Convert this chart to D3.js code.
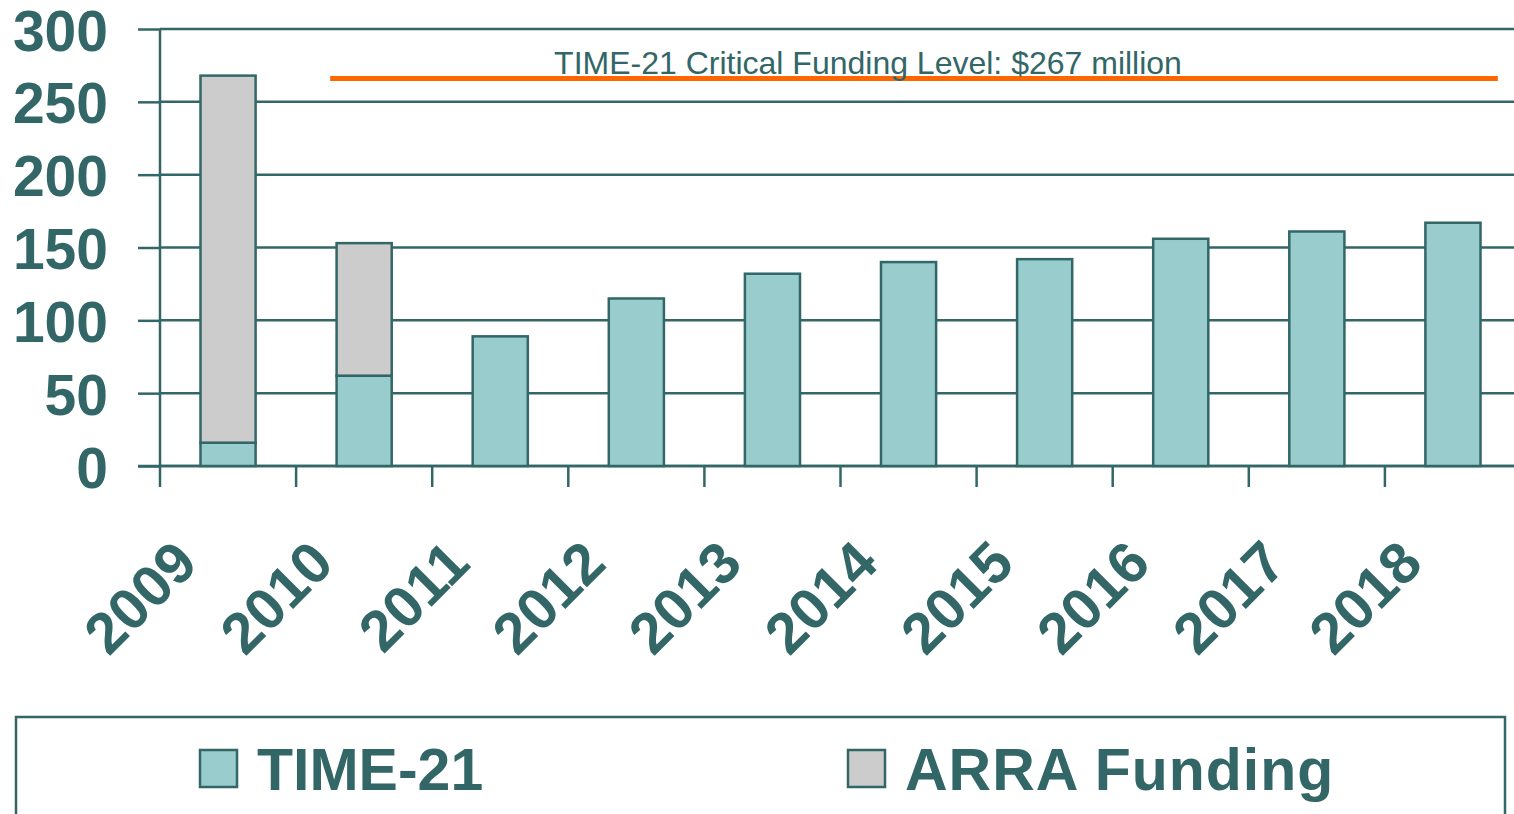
<!DOCTYPE html>
<html>
<head>
<meta charset="utf-8">
<script src="https://cdn.jsdelivr.net/npm/d3@7"></script>
<style>
  body { margin: 0; background: #fff; }
  svg { display: block; font-family: "Liberation Sans", Arial, sans-serif; }
</style>
</head>
<body>
<svg id="chart" width="1514" height="814"></svg>
<script>
const years = ["2009", "2010", "2011", "2012", "2013", "2014", "2015", "2016", "2017", "2018"];
const time21 = [16, 62, 89, 115, 132, 140, 142, 156, 161, 167];
const arra = [252, 91, 0, 0, 0, 0, 0, 0, 0, 0];
const yTicks = [0, 50, 100, 150, 200, 250, 300];
const criticalLevel = 266;
const criticalLabel = "TIME-21 Critical Funding Level: $267 million";
const legendLabels = ["TIME-21", "ARRA Funding"];

const teal = "#336666";
const tealFill = "#99cccc";
const grayFill = "#cccccc";
const orange = "#ff6600";

const svg = d3.select("#chart");

let x = d3.scaleBand().domain(years).range([160, 1521]).paddingInner(0.595).paddingOuter(0.2975);
let y = d3.scaleLinear().domain([0, 300]).range([466, 29]);
// position along the category axis, in band units
let xi = d3.scaleLinear().domain([0, years.length]).range([160, 1521]);

let data = years.map((d, i) => ({ year: d, t: time21[i], a: arra[i] }));

// gridlines
svg.append("g")
  .selectAll("line")
  .data(yTicks)
  .enter()
  .append("line")
  .attr("x1", 160)
  .attr("x2", 1521)
  .attr("y1", (d) => y(d))
  .attr("y2", (d) => y(d))
  .attr("stroke", teal)
  .attr("stroke-width", 2.5);

// y axis
let yAxis = svg.append("g")
  .attr("transform", "translate(160,0)")
  .call(d3.axisLeft(y).tickValues(yTicks).tickSize(22).tickPadding(30));
yAxis.selectAll("line, path").attr("stroke", teal).attr("stroke-width", 2.5);
yAxis.select(".domain").attr("d", "M0," + y(0) + "V" + y(300));
yAxis.selectAll("text")
  .attr("fill", teal)
  .attr("font-size", 57)
  .attr("font-weight", "bold")
  .attr("font-family", "Liberation Sans, Arial, sans-serif")
  .attr("dy", "0.37em");

// x ticks at band boundaries
let boundaries = d3.range(years.length + 1);
svg.append("g")
  .selectAll("line")
  .data(boundaries)
  .enter()
  .append("line")
  .attr("x1", (d) => xi(d))
  .attr("x2", (d) => xi(d))
  .attr("y1", y(0))
  .attr("y2", y(0) + 21)
  .attr("stroke", teal)
  .attr("stroke-width", 2.5);

svg.append("line")
  .attr("x1", 138).attr("x2", 1521)
  .attr("y1", y(0)).attr("y2", y(0))
  .attr("stroke", teal).attr("stroke-width", 2.5);

// x labels
svg.append("g")
  .selectAll("text")
  .data(years)
  .enter()
  .append("text")
  .attr("text-anchor", "end")
  .attr("transform", (d) => "translate(" + (x(d) + x.bandwidth() / 2 - 28) + ",566) rotate(-45)")
  .attr("fill", teal)
  .attr("font-size", 58)
  .attr("font-weight", "bold")
  .text((d) => d);

// TIME-21 bars
svg.append("g")
  .selectAll("rect")
  .data(data)
  .enter()
  .append("rect")
  .attr("x", (d) => x(d.year))
  .attr("width", x.bandwidth())
  .attr("y", (d) => y(d.t))
  .attr("height", (d) => y(0) - y(d.t))
  .attr("fill", tealFill)
  .attr("stroke", teal)
  .attr("stroke-width", 2.5);

// ARRA bars stacked on top
svg.append("g")
  .selectAll("rect")
  .data(data.filter((d) => d.a > 0))
  .enter()
  .append("rect")
  .attr("x", (d) => x(d.year))
  .attr("width", x.bandwidth())
  .attr("y", (d) => y(d.t + d.a))
  .attr("height", (d) => y(d.t) - y(d.t + d.a))
  .attr("fill", grayFill)
  .attr("stroke", teal)
  .attr("stroke-width", 2.5);

// critical funding level
svg.append("line")
  .attr("x1", xi(1.25))
  .attr("x2", xi(9.83))
  .attr("y1", y(criticalLevel))
  .attr("y2", y(criticalLevel))
  .attr("stroke", orange)
  .attr("stroke-width", 5);

svg.append("text")
  .attr("x", 868)
  .attr("y", y(criticalLevel) - 5)
  .attr("text-anchor", "middle")
  .attr("fill", teal)
  .attr("font-size", 32)
  .text(criticalLabel);

// legend
svg.append("rect")
  .attr("x", 16).attr("y", 717)
  .attr("width", 1489).attr("height", 130)
  .attr("fill", "none")
  .attr("stroke", teal)
  .attr("stroke-width", 2.5);

let legendX = [200, 848];
let legendFill = [tealFill, grayFill];
let legend = svg.append("g")
  .selectAll("g")
  .data(legendLabels)
  .enter()
  .append("g")
  .attr("transform", (d, i) => "translate(" + legendX[i] + ",750)");

legend.append("rect")
  .attr("width", 37).attr("height", 37)
  .attr("fill", (d, i) => legendFill[i])
  .attr("stroke", teal)
  .attr("stroke-width", 2.5);

legend.append("text")
  .attr("x", 57)
  .attr("y", 40)
  .attr("fill", teal)
  .attr("font-size", 59)
  .attr("font-weight", "bold")
  .attr("letter-spacing", (d, i) => (i === 1 ? 1 : 0))
  .text((d) => d);
</script>
</body>
</html>
